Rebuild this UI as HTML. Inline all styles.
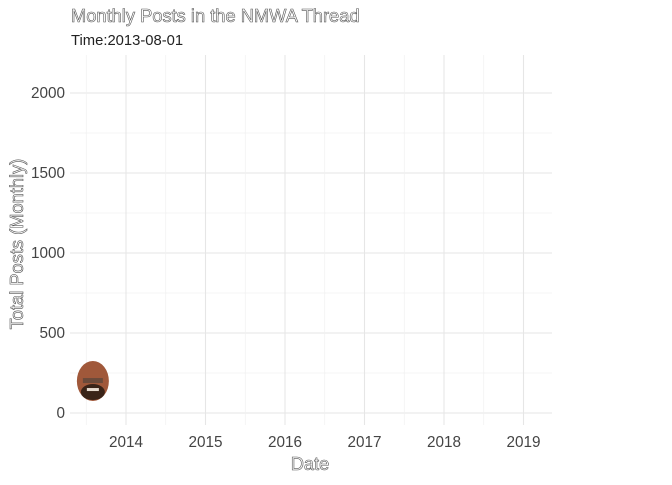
<!DOCTYPE html>
<html><head><meta charset="utf-8"><style>
body{margin:0;background:#fff}
svg text{font-family:"Liberation Sans",Arial,sans-serif}
.hollow{fill:#fff;stroke:#555;stroke-width:0.6}
</style></head><body>
<svg id="c" width="672" height="480">
<g id="grid"></g>
<g id="marks"></g>
<text x="71" y="22" font-size="18.3" class="hollow">Monthly Posts in the NMWA Thread</text>
<text x="71" y="45" font-size="14.8" fill="#222">Time:2013-08-01</text>
<text x="310" y="470" font-size="18.3" text-anchor="middle" class="hollow">Date</text>
<text transform="translate(23,244) rotate(-90)" font-size="18.3" text-anchor="middle" class="hollow">Total Posts (Monthly)</text>
</svg>
<script>
const xTicks=[2014,2015,2016,2017,2018,2019];
const yTicks=[0,500,1000,1500,2000];
const pointDates=[2013+7/12];
const pointValues=[206];
const X0=70,X1=552,Y0=55,Y1=425;
const xs=v=>126+(v-2014)*79.5;
const ys=v=>413-v*0.16;
const ns="http://www.w3.org/2000/svg";
const grid=document.getElementById('grid'),marks=document.getElementById('marks');
function mk(t,a,p){const e=document.createElementNS(ns,t);for(const k in a)e.setAttribute(k,a[k]);p.appendChild(e);return e;}
for(let v=-250;v<=2250;v+=250){const y=ys(v);if(y<Y0||y>Y1)continue;const major=v%500===0;
 const l=mk('line',{x1:X0,x2:X1,y1:y,y2:y,stroke:major?'#e6e6e6':'#f0f0f0','stroke-width':major?1.1:0.7},grid);
 
 }
for(let v=2013.5;v<=2019.5;v+=0.5){const x=xs(v);if(x<X0||x>X1)continue;const major=Number.isInteger(v);
 const l=mk('line',{x1:x,x2:x,y1:Y0,y2:Y1,stroke:major?'#e6e6e6':'#f0f0f0','stroke-width':major?1.1:0.7},grid);
 
 }
yTicks.forEach(v=>{const t=mk('text',{x:65,y:ys(v)+5,'font-size':15.3,fill:'#444','text-anchor':'end'},grid);t.textContent=v;
 
 });
xTicks.forEach(v=>{const t=mk('text',{x:xs(v),y:447,'font-size':15.3,fill:'#444','text-anchor':'middle'},grid);t.textContent=v;
 
 });
pointDates.forEach((d,i)=>{const cx=xs(d),cy=ys(pointValues[i]);
 const g=mk('g',{},marks);
 
 
 mk('ellipse',{cx:cx,cy:cy+1,rx:16,ry:20,fill:'#a0583a'},g);
 mk('ellipse',{cx:cx,cy:cy+12,rx:12,ry:8,fill:'#3a2418'},g);
 mk('rect',{x:cx-10,y:cy-2,width:20,height:5,fill:'#6b4a3a'},g);
 mk('rect',{x:cx-6,y:cy+8,width:12,height:3,fill:'#e8dcd0'},g);});
</script>
</body></html>
